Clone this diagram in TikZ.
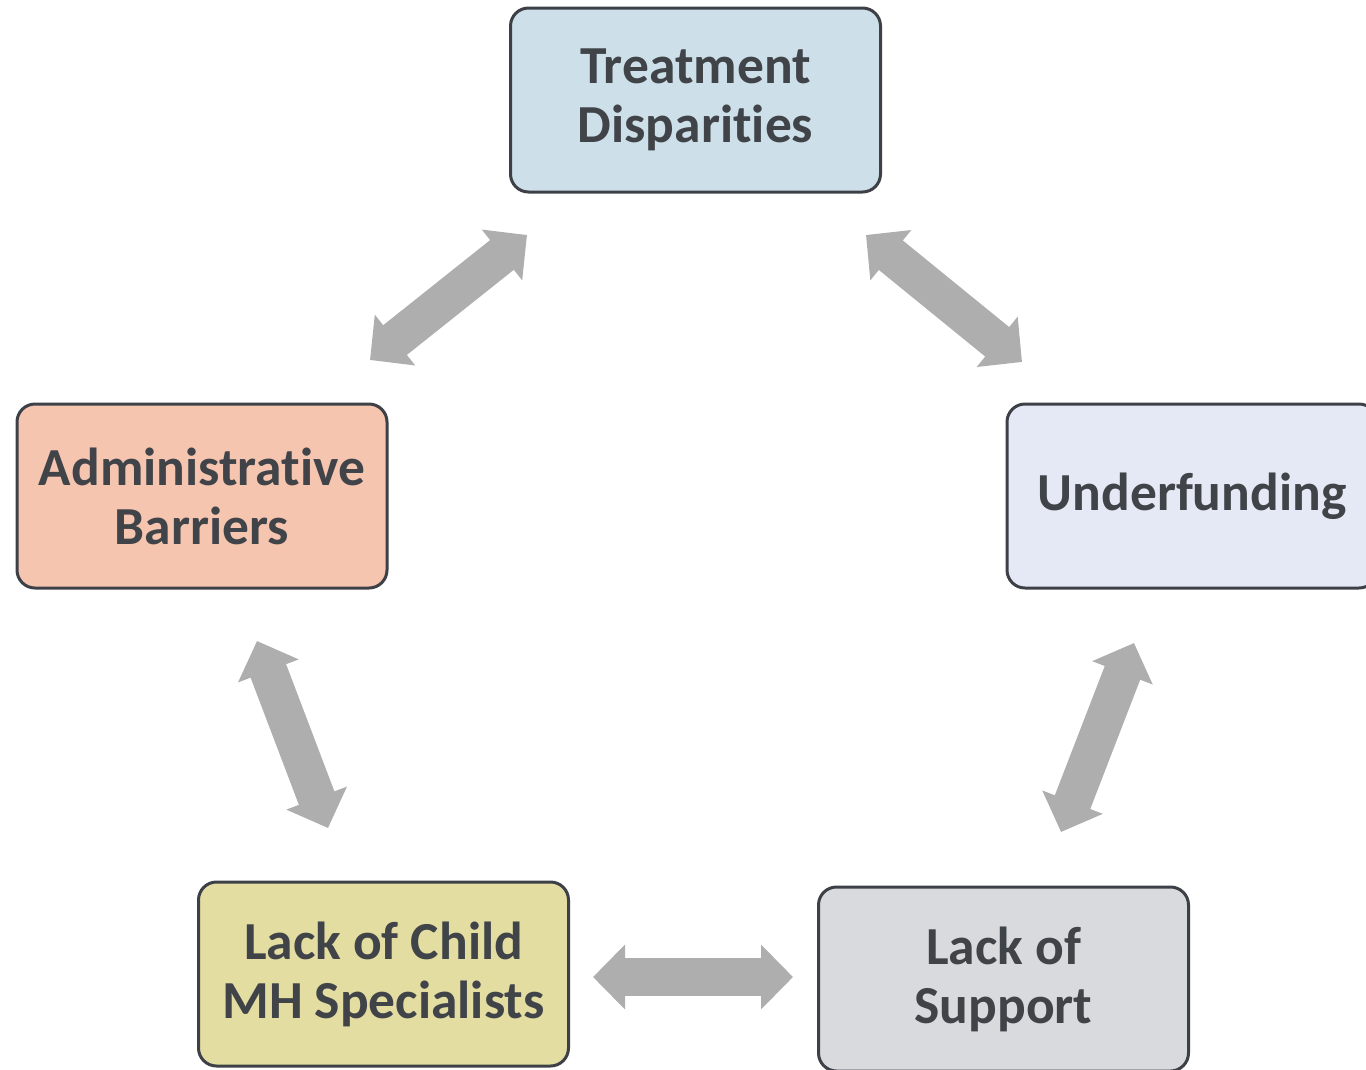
\documentclass[tikz,border=0pt]{standalone}
\usepackage{fontspec}
\setmainfont{Carlito}[Ligatures=NoCommon]
\usetikzlibrary{arrows.meta}
\definecolor{txt}{HTML}{404449}
\definecolor{bord}{HTML}{3D4147}
\definecolor{arrowgray}{HTML}{AEAEAE}
\definecolor{fTD}{HTML}{CDE0EA}
\definecolor{fAB}{HTML}{F5C5B0}
\definecolor{fUF}{HTML}{E4E9F5}
\definecolor{fLC}{HTML}{E3DDA2}
\definecolor{fLS}{HTML}{D9DADE}
\tikzset{
  box/.style={draw=bord, line width=3pt, rounded corners=18pt, minimum width=370pt, minimum height=184pt, align=center, text=txt, inner sep=0pt,
    font=\fontsize{53.5pt}{59pt}\selectfont\bfseries},
  biarrow/.style={draw=arrowgray, line width=38pt, {Triangle[width=63pt,length=32pt]}-{Triangle[width=63pt,length=32pt]}}
}
\begin{document}
\begin{tikzpicture}[x=1pt,y=-1pt]
\useasboundingbox (0,0) rectangle (1366,1069);
\node[box, fill=fTD] (td) at (695.5,100) {\raisebox{-2pt}{\parbox{360pt}{\centering Treatment\\Disparities}}};
\node[box, fill=fAB] (ab) at (202,496) {Administrative\\Barriers};
\node[box, fill=fUF] (uf) at (1192,496) {Underfunding};
\node[box, fill=fLC] (lc) at (383.5,974) {Lack of Child\\MH Specialists};
\node[box, fill=fLS] (ls) at (1003.5,979) {Lack of\\Support};
\coordinate (a1s) at (370,360);
\coordinate (a1e) at (527,235);
\coordinate (a2s) at (866,235);
\coordinate (a2e) at (1022,362);
\coordinate (a3s) at (257,641);
\coordinate (a3e) at (328,828);
\coordinate (a4s) at (1134,643);
\coordinate (a4e) at (1061,832);
\coordinate (a5s) at (593,977);
\coordinate (a5e) at (793,977);
\draw[biarrow] (a1s) -- (a1e);
\draw[biarrow] (a2s) -- (a2e);
\draw[biarrow] (a3s) -- (a3e);
\draw[biarrow] (a4s) -- (a4e);
\draw[biarrow] (a5s) -- (a5e);
\end{tikzpicture}
\end{document}
